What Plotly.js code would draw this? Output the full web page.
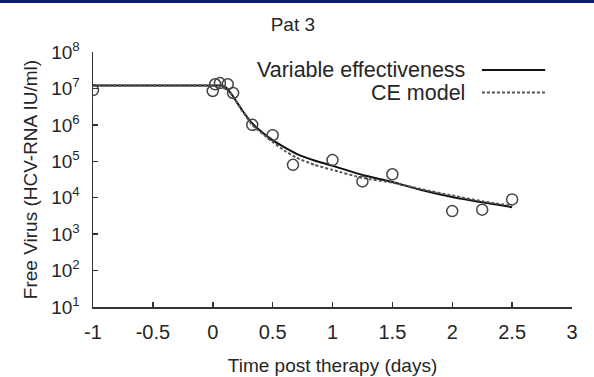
<!DOCTYPE html>
<html>
<head>
<meta charset="utf-8">
<script src="https://cdn.plot.ly/plotly-3.0.1.min.js"></script>
<style>
  html, body { margin: 0; padding: 0; background: #fff; }
  #wrap { position: relative; width: 594px; height: 377px; }
  #bar { position: absolute; left: 0; top: 0; width: 594px; height: 3px; background: #0c1878; z-index: 5; }
  #chart { position: absolute; left: 0; top: 0; width: 594px; height: 377px; }
</style>
</head>
<body>
<div id="wrap"><div id="chart"></div><div id="bar"></div></div>
<script>
// Measured data (Pat 3)
const obsTime  = [-1, 0, 0.02, 0.06, 0.125, 0.17, 0.33, 0.5, 0.67, 1.0, 1.25, 1.5, 2.0, 2.25, 2.5];
const obsVirus = [9e6, 8.5e6, 1.3e7, 1.4e7, 1.3e7, 7.5e6, 1.0e6, 5.2e5, 8e4, 1.08e5, 2.8e4, 4.4e4, 4.3e3, 4.7e3, 9e3];

// Model curves
const modelTime = [-1, 0, 0.08, 0.12, 0.17, 0.25, 0.33, 0.42, 0.5, 0.6, 0.7, 0.85, 1.0, 1.25, 1.5, 1.75, 2.0, 2.25, 2.5];
const varEff    = [1.2e7, 1.2e7, 1.2e7, 1.0e7, 6e6, 2.4e6, 1.1e6, 6e5, 3.8e5, 2.4e5, 1.6e5, 1.05e5, 7.5e4, 4.2e4, 2.7e4, 1.6e4, 1.05e4, 7.5e3, 5.5e3];
const ceModel   = [1.2e7, 1.2e7, 1.2e7, 1.0e7, 6e6, 2.3e6, 1.0e6, 5.5e5, 3.4e5, 1.95e5, 1.25e5, 8.0e4, 5.8e4, 3.5e4, 2.6e4, 1.7e4, 1.15e4, 8e3, 6e3];

// Tick labels
const xTickVals = [-1, -0.5, 0, 0.5, 1, 1.5, 2, 2.5, 3];
const xTickText = ['-1', '-0.5', '0', '0.5', '1', '1.5', '2', '2.5', '3'];
const yTickVals = [1e1, 1e2, 1e3, 1e4, 1e5, 1e6, 1e7, 1e8];
const yTickText = ['10<sup>1</sup>', '10<sup>2</sup>', '10<sup>3</sup>', '10<sup>4</sup>', '10<sup>5</sup>', '10<sup>6</sup>', '10<sup>7</sup>', '10<sup>8</sup>'];

const seriesNames = ['Variable effectiveness', 'CE model'];

const FONT = 'Liberation Sans, Arial, Helvetica, sans-serif';
const TXT = '#262626';

const traces = [
  { x: modelTime, y: varEff, type: 'scatter', mode: 'lines', name: seriesNames[0],
    line: { color: '#111', width: 2, shape: 'spline', smoothing: 0.5 }, showlegend: false },
  { x: modelTime, y: ceModel, type: 'scatter', mode: 'lines', name: seriesNames[1],
    line: { color: '#555', width: 2, dash: '3px,2px', shape: 'spline', smoothing: 0.5 }, showlegend: false },
  { x: obsTime, y: obsVirus, type: 'scatter', mode: 'markers', name: 'Data',
    marker: { symbol: 'circle-open', size: 11, color: '#444', line: { width: 1.5, color: '#444' } },
    showlegend: false }
];

const layout = {
  width: 594, height: 377,
  margin: { l: 93, r: 22, t: 52, b: 70, pad: 0 },
  paper_bgcolor: '#fff', plot_bgcolor: '#fff',
  font: { family: FONT, size: 19, color: TXT },
  showlegend: false,
  title: { text: 'Pat 3', font: { family: FONT, size: 19, color: TXT },
           xref: 'container', x: 0.493, xanchor: 'center', yref: 'container', y: 0.935, yanchor: 'middle' },
  xaxis: {
    range: [-1, 3], tickmode: 'array', tickvals: xTickVals, ticktext: xTickText,
    ticks: 'inside', ticklen: 5, tickwidth: 1.5, tickcolor: '#333',
    showline: true, linecolor: '#333', linewidth: 1.5, mirror: false,
    showgrid: false, zeroline: false, ticklabelstandoff: 6,
    tickfont: { family: FONT, size: 20, color: TXT },
    title: { text: 'Time post therapy (days)', font: { family: FONT, size: 19, color: TXT }, standoff: 17 }
  },
  yaxis: {
    type: 'log', range: [1, 8], tickmode: 'array', tickvals: yTickVals, ticktext: yTickText,
    ticks: 'inside', ticklen: 5, tickwidth: 1.5, tickcolor: '#333',
    showline: true, linecolor: '#333', linewidth: 1.5, mirror: false,
    showgrid: false, zeroline: false, ticklabelstandoff: 8,
    tickfont: { family: FONT, size: 19, color: TXT },
    title: { text: 'Free Virus (HCV-RNA IU/ml)', font: { family: FONT, size: 19, color: TXT }, standoff: 8 }
  },
  annotations: [
    { text: seriesNames[0], xref: 'paper', yref: 'paper', x: 0.781, y: 0.929, xanchor: 'right', yanchor: 'middle',
      showarrow: false, font: { family: FONT, size: 21.5, color: TXT } },
    { text: seriesNames[1], xref: 'paper', yref: 'paper', x: 0.781, y: 0.841, xanchor: 'right', yanchor: 'middle',
      showarrow: false, font: { family: FONT, size: 21.5, color: TXT } }
  ],
  shapes: [
    { type: 'line', xref: 'paper', yref: 'paper', x0: 0.812, x1: 0.944, y0: 0.929, y1: 0.929,
      line: { color: '#111', width: 2 } },
    { type: 'line', xref: 'paper', yref: 'paper', x0: 0.812, x1: 0.944, y0: 0.841, y1: 0.841,
      line: { color: '#555', width: 2, dash: '3px,2px' } }
  ]
};

Plotly.newPlot('chart', traces, layout, { staticPlot: true, displayModeBar: false });
</script>
</body>
</html>
